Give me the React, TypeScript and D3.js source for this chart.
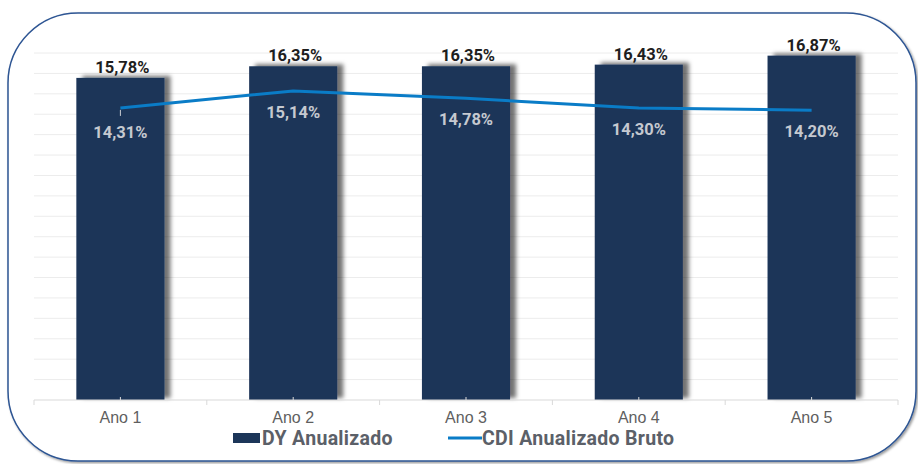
import React, { useRef, useEffect } from 'react';
import * as d3 from 'd3';

const categories = ['Ano 1', 'Ano 2', 'Ano 3', 'Ano 4', 'Ano 5'];
const dyValues = [15.78, 16.35, 16.35, 16.43, 16.87];
const cdiValues = [14.31, 15.14, 14.78, 14.3, 14.2];
const legendLabels = ['DY Anualizado', 'CDI Anualizado Bruto'];

const fmt = (v: number) => v.toFixed(2).replace('.', ',') + '%';

const App: React.FC = () => {
  const chartRef = useRef<SVGSVGElement>(null);

  useEffect(() => {
    if (!chartRef.current) return;
    const svg = d3.select(chartRef.current);
    svg.selectAll('*').remove();

    const width = 918;
    const height = 464;
    const margin = { top: 53, right: 20, bottom: 64, left: 34 };
    const barColor = '#1c3659';
    const lineColor = '#0a7cc7';

    const defs = svg.append('defs');
    const shadow = defs.append('filter').attr('id', 'barShadow')
      .attr('x', '-20%').attr('y', '-20%').attr('width', '150%').attr('height', '150%');
    shadow.append('feDropShadow')
      .attr('dx', 6).attr('dy', -2).attr('stdDeviation', 2)
      .attr('flood-color', '#000').attr('flood-opacity', 0.55);

    const boxShadow = defs.append('filter').attr('id', 'boxShadow')
      .attr('x', '-5%').attr('y', '-5%').attr('width', '110%').attr('height', '110%');
    boxShadow.append('feDropShadow')
      .attr('dx', 1.5).attr('dy', 1.5).attr('stdDeviation', 1.2)
      .attr('flood-color', '#000').attr('flood-opacity', 0.4);

    // Rounded frame
    svg.append('rect')
      .attr('x', 8).attr('y', 13)
      .attr('width', 908).attr('height', 448)
      .attr('rx', 70).attr('ry', 70)
      .attr('fill', '#fff')
      .attr('stroke', '#2d5593')
      .attr('stroke-width', 1.5)
      .attr('filter', 'url(#boxShadow)');

    const x = d3.scaleBand()
      .domain(categories)
      .range([margin.left, width - margin.right])
      .paddingInner(0.49)
      .paddingOuter(0.245);

    const xOuter = d3.scaleBand()
      .domain(categories)
      .range([margin.left, width - margin.right]);

    const y = d3.scaleLinear()
      .domain([0, 17])
      .range([height - margin.bottom, margin.top]);

    // Gridlines
    svg.append('g')
      .selectAll('line')
      .data(d3.range(1, 18))
      .enter()
      .append('line')
      .attr('x1', margin.left)
      .attr('x2', width - margin.right)
      .attr('y1', d => y(d))
      .attr('y2', d => y(d))
      .attr('stroke', '#ececec')
      .attr('stroke-width', 1);

    // Bars
    svg.append('g')
      .selectAll('rect')
      .data(dyValues)
      .enter()
      .append('rect')
      .attr('x', (d, i) => x(categories[i]) || 0)
      .attr('y', d => y(d))
      .attr('width', x.bandwidth())
      .attr('height', d => y(0) - y(d))
      .attr('fill', barColor)
      .attr('filter', 'url(#barShadow)');

    // X axis
    const axis = svg.append('g');
    axis.append('line')
      .attr('x1', margin.left).attr('x2', width - margin.right)
      .attr('y1', y(0)).attr('y2', y(0))
      .attr('stroke', '#d9d9d9').attr('stroke-width', 1);
    axis.selectAll('.tick-b')
      .data(d3.range(0, categories.length + 1))
      .enter()
      .append('line')
      .attr('x1', i => margin.left + i * xOuter.step())
      .attr('x2', i => margin.left + i * xOuter.step())
      .attr('y1', y(0)).attr('y2', y(0) + 5)
      .attr('stroke', '#d9d9d9');
    axis.selectAll('.tick-c')
      .data(categories)
      .enter()
      .append('line')
      .attr('x1', d => (xOuter(d) || 0) + xOuter.bandwidth() / 2)
      .attr('x2', d => (xOuter(d) || 0) + xOuter.bandwidth() / 2)
      .attr('y1', y(0) - 3).attr('y2', y(0))
      .attr('stroke', '#d9d9d9');
    axis.selectAll('text')
      .data(categories)
      .enter()
      .append('text')
      .attr('x', d => (xOuter(d) || 0) + xOuter.bandwidth() / 2)
      .attr('y', y(0) + 23)
      .attr('text-anchor', 'middle')
      .attr('font-family', '"Liberation Sans", Arial, sans-serif')
      .attr('font-size', 16)
      .attr('fill', '#5f5f5f')
      .text(d => d);

    // CDI line
    const cx = (i: number) => (xOuter(categories[i]) || 0) + xOuter.bandwidth() / 2;
    const line = d3.line<number>()
      .x((d, i) => cx(i))
      .y(d => y(d));
    svg.append('path')
      .datum(cdiValues)
      .attr('d', line)
      .attr('fill', 'none')
      .attr('stroke', lineColor)
      .attr('stroke-width', 3)
      .attr('stroke-linejoin', 'round');

    // leader mark for the first label
    svg.append('line')
      .attr('x1', cx(0)).attr('x2', cx(0))
      .attr('y1', y(cdiValues[0]) + 2).attr('y2', y(cdiValues[0]) + 8)
      .attr('stroke', '#c9ccd2').attr('stroke-width', 1);

    // DY labels
    svg.append('g')
      .selectAll('text')
      .data(dyValues)
      .enter()
      .append('text')
      .attr('x', (d, i) => cx(i) + 2)
      .attr('y', d => y(d) - 5)
      .attr('text-anchor', 'middle')
      .attr('font-family', 'Roboto, sans-serif')
      .attr('font-weight', 'bold')
      .attr('font-size', 16.5)
      .attr('fill', '#1e1e1e')
      .text(d => fmt(d));

    // CDI labels
    svg.append('g')
      .selectAll('text')
      .data(cdiValues)
      .enter()
      .append('text')
      .attr('x', (d, i) => cx(i))
      .attr('y', (d, i) => y(d) + (i === 0 ? 30 : 27))
      .attr('text-anchor', 'middle')
      .attr('font-family', 'Roboto, sans-serif')
      .attr('font-weight', 'bold')
      .attr('font-size', 16.5)
      .attr('fill', '#c5c9d0')
      .text(d => fmt(d));

    // Legend
    const legend = svg.append('g');
    legend.append('rect')
      .attr('x', 233).attr('y', 433)
      .attr('width', 27).attr('height', 10)
      .attr('fill', barColor);
    legend.append('text')
      .attr('x', 262).attr('y', 445)
      .attr('font-family', 'Roboto, sans-serif')
      .attr('font-weight', 'bold')
      .attr('font-size', 19.5)
      .attr('letter-spacing', 0.3)
      .attr('fill', '#5b6068')
      .text(legendLabels[0]);
    legend.append('line')
      .attr('x1', 448).attr('x2', 482)
      .attr('y1', 438).attr('y2', 438)
      .attr('stroke', lineColor).attr('stroke-width', 3);
    legend.append('text')
      .attr('x', 482).attr('y', 445)
      .attr('font-family', 'Roboto, sans-serif')
      .attr('font-weight', 'bold')
      .attr('font-size', 19.5)
      .attr('letter-spacing', 0.3)
      .attr('fill', '#5b6068')
      .text(legendLabels[1]);
  }, []);

  return (
    <div style={{ position: 'fixed', left: 0, top: 0, background: '#fff' }}>
      <svg ref={chartRef} width={918} height={464}></svg>
    </div>
  );
};

export default App;
